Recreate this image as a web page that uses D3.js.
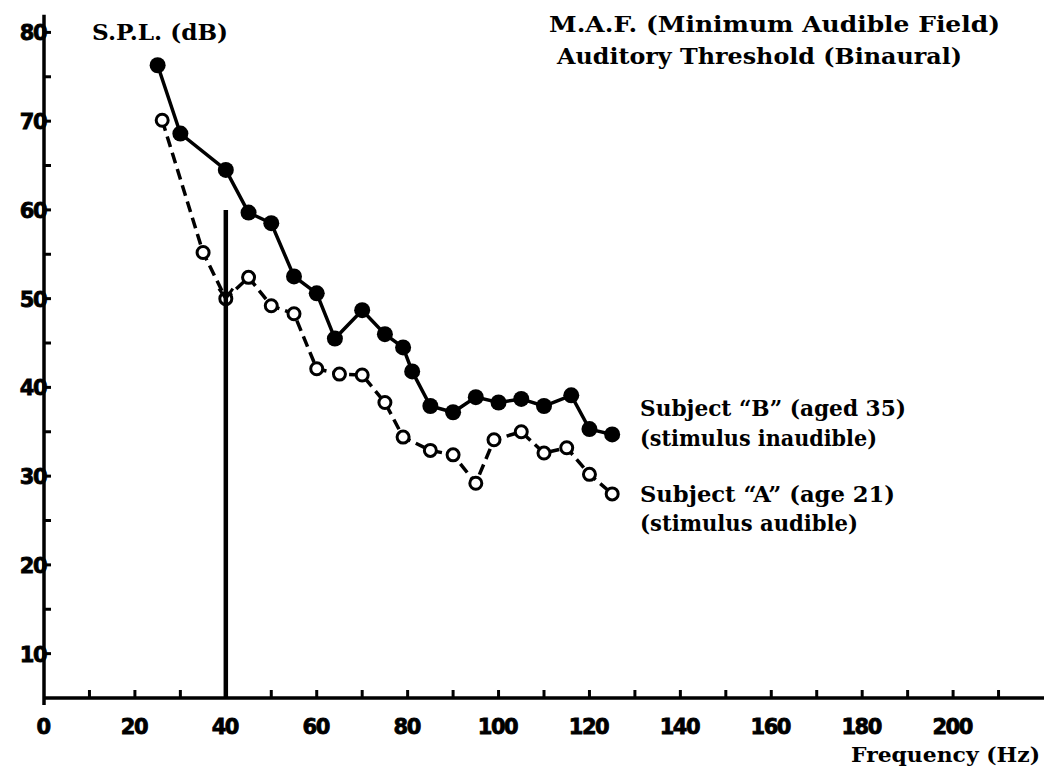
<!DOCTYPE html>
<html>
<head>
<meta charset="utf-8">
<script src="https://cdn.jsdelivr.net/npm/d3@7"></script>
<style>
  body { margin: 0; background: #fff; }
  .tick-label { font-family: "DejaVu Sans", sans-serif; font-weight: bold; font-size: 21px; letter-spacing: -1.5px; stroke: #000; stroke-width: 0.8px; }
  .serif { font-family: "DejaVu Serif", serif; font-weight: bold; }
</style>
</head>
<body>
<div id="chart"></div>
<script>
// data
const freqB = [25, 30, 40, 45, 50, 55, 60, 64, 70, 75, 79, 81, 85, 90, 95, 100, 105, 110, 116, 120, 125];
const splB  = [76.3, 68.6, 64.5, 59.7, 58.5, 52.5, 50.6, 45.5, 48.7, 46.0, 44.5, 41.8, 37.9, 37.2, 38.9, 38.3, 38.7, 37.9, 39.1, 35.3, 34.7];
const freqA = [26, 35, 40, 45, 50, 55, 60, 65, 70, 75, 79, 85, 90, 95, 99, 105, 110, 115, 120, 125];
const splA  = [70.1, 55.2, 50, 52.4, 49.2, 48.3, 42.1, 41.5, 41.4, 38.3, 34.4, 32.9, 32.4, 29.2, 34.1, 35.0, 32.6, 33.2, 30.2, 28.0];

const xTicks = [10, 20, 30, 40, 50, 60, 70, 80, 90, 100, 110, 120, 130, 140, 150, 160, 170, 180, 190, 200, 210];
const xLabels = [0, 20, 40, 60, 80, 100, 120, 140, 160, 180, 200];
const yTicks = [10, 15, 20, 25, 30, 35, 40, 45, 50, 55, 60, 65, 70, 75, 80];
const yLabels = [10, 20, 30, 40, 50, 60, 70, 80];

const markerFreq = 40;     // vertical marker line
const markerTop = 60;
const markerArrow = 50;

const W = 1050, H = 767;

const svg = d3.select("#chart").append("svg")
    .attr("width", W)
    .attr("height", H);

const x = d3.scaleLinear().domain([0, 220]).range([44, 1044]);
const y = d3.scaleLinear().domain([5, 80]).range([698, 32.4]);

// axes
svg.append("line")
    .attr("x1", x(0)).attr("x2", x(220))
    .attr("y1", y(5)).attr("y2", y(5))
    .attr("stroke", "#000").attr("stroke-width", 3.5);

svg.append("line")
    .attr("x1", x(0)).attr("x2", x(0))
    .attr("y1", y(82)).attr("y2", y(5) + 7)
    .attr("stroke", "#000").attr("stroke-width", 3.5);

svg.selectAll(".xtick")
    .data(xTicks)
    .enter()
    .append("line")
    .attr("x1", d => x(d)).attr("x2", d => x(d))
    .attr("y1", y(5)).attr("y2", y(5) - 8)
    .attr("stroke", "#000").attr("stroke-width", 3);

svg.selectAll(".ytick")
    .data(yTicks)
    .enter()
    .append("line")
    .attr("x1", x(0)).attr("x2", x(0) + 7)
    .attr("y1", d => y(d)).attr("y2", d => y(d))
    .attr("stroke", "#000").attr("stroke-width", 3);

svg.selectAll(".xlab")
    .data(xLabels)
    .enter()
    .append("text")
    .attr("class", "tick-label")
    .attr("x", d => x(d) - 1)
    .attr("y", 734)
    .attr("text-anchor", "middle")
    .text(d => d);

svg.selectAll(".ylab")
    .data(yLabels)
    .enter()
    .append("text")
    .attr("class", "tick-label")
    .attr("x", x(0) + 2)
    .attr("y", d => y(d) + 8)
    .attr("text-anchor", "end")
    .text(d => d);

// series
const line = d3.line()
    .x(d => x(d[0]))
    .y(d => y(d[1]));

const dataA = freqA.map((f, i) => [f, splA[i]]);
const dataB = freqB.map((f, i) => [f, splB[i]]);

svg.append("path")
    .attr("d", line(dataA))
    .attr("fill", "none")
    .attr("stroke", "#000")
    .attr("stroke-width", 3.5)
    .attr("stroke-dasharray", "11,6");

svg.append("path")
    .attr("d", line(dataB))
    .attr("fill", "none")
    .attr("stroke", "#000")
    .attr("stroke-width", 3.5);

svg.selectAll(".ptA")
    .data(dataA)
    .enter()
    .append("circle")
    .attr("cx", d => x(d[0]))
    .attr("cy", d => y(d[1]))
    .attr("r", 6)
    .attr("fill", "#fff")
    .attr("stroke", "#000")
    .attr("stroke-width", 3);

svg.selectAll(".ptB")
    .data(dataB)
    .enter()
    .append("circle")
    .attr("cx", d => x(d[0]))
    .attr("cy", d => y(d[1]))
    .attr("r", 8)
    .attr("fill", "#000");

// vertical marker with arrowhead, drawn over the points
svg.append("line")
    .attr("x1", x(markerFreq)).attr("x2", x(markerFreq))
    .attr("y1", y(markerTop)).attr("y2", y(5))
    .attr("stroke", "#000").attr("stroke-width", 4.5);

const ax = x(markerFreq), ay = y(markerArrow);
svg.append("path")
    .attr("d", `M${ax - 7},${ay - 10} L${ax},${ay} L${ax + 7},${ay - 10}`)
    .attr("fill", "none")
    .attr("stroke", "#000")
    .attr("stroke-width", 3);

// labels
function label(txt, px, py, size, len, anchor) {
    svg.append("text")
        .attr("class", "serif")
        .attr("x", px).attr("y", py)
        .attr("text-anchor", anchor || "start")
        .attr("textLength", len)
        .attr("lengthAdjust", "spacingAndGlyphs")
        .style("font-size", size + "px")
        .text(txt);
}

label("S.P.L. (dB)", 92, 40, 22, 136);
label("M.A.F. (Minimum Audible Field)", 549, 32, 23, 451);
label("Auditory Threshold (Binaural)", 557, 64, 23, 405);
label("Subject \u201cB\u201d (aged 35)", 640, 416, 22, 266);
label("(stimulus inaudible)", 640, 446, 22, 237);
label("Subject \u201cA\u201d (age 21)", 640, 502, 22, 255);
label("(stimulus audible)", 640, 531, 22, 218);
label("Frequency (Hz)", 851, 762, 21, 189);
</script>
</body>
</html>
